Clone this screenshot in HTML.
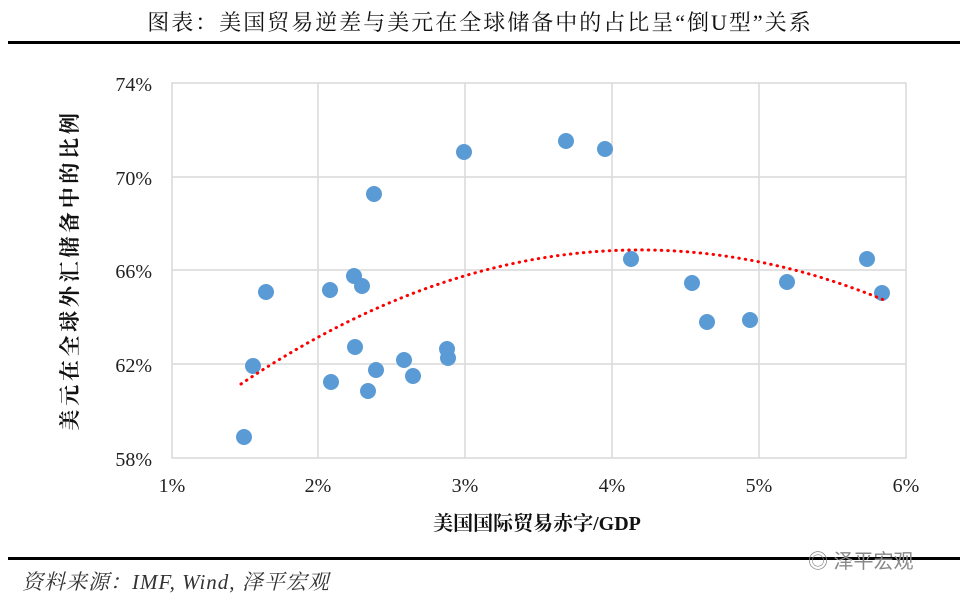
<!DOCTYPE html>
<html><head><meta charset="utf-8"><style>
body{margin:0;background:#fff;width:960px;height:600px;overflow:hidden;position:relative}
.t{position:absolute;white-space:nowrap}
</style></head><body>
<div class="t" style="left:0;width:960px;top:6px;text-align:center;font:22px 'Liberation Serif','Noto Serif CJK SC',serif;letter-spacing:2px;color:#111">图表：美国贸易逆差与美元在全球储备中的占比呈“倒U型”关系</div>
<div style="position:absolute;left:8px;right:0;top:41px;height:3px;background:#000"></div>
<div style="position:absolute;left:8px;right:0;top:557px;height:3px;background:#000"></div>
<svg width="960" height="600" style="position:absolute;left:0;top:0" font-family="Liberation Serif,serif" font-size="20">
<g stroke="#d9d9d9" stroke-width="1.5" fill="none">
<rect x="172" y="83" width="734" height="375"/>
<line x1="318" y1="83" x2="318" y2="458"/><line x1="465" y1="83" x2="465" y2="458"/>
<line x1="612" y1="83" x2="612" y2="458"/><line x1="759" y1="83" x2="759" y2="458"/>
<line x1="172" y1="177" x2="906" y2="177"/><line x1="172" y1="270" x2="906" y2="270"/><line x1="172" y1="364" x2="906" y2="364"/>
</g>
<g fill="#222" text-anchor="end">
<text x="152" y="91">74%</text><text x="152" y="185">70%</text><text x="152" y="278">66%</text><text x="152" y="372">62%</text><text x="152" y="466">58%</text>
</g>
<g fill="#222" text-anchor="middle">
<text x="172" y="492">1%</text><text x="318" y="492">2%</text><text x="465" y="492">3%</text><text x="612" y="492">4%</text><text x="759" y="492">5%</text><text x="906" y="492">6%</text>
</g>
<g fill="#5b9bd5">
<circle cx="244" cy="437" r="8"/><circle cx="253" cy="366" r="8"/><circle cx="266" cy="292" r="8"/><circle cx="330" cy="290" r="8"/><circle cx="331" cy="382" r="8"/><circle cx="354" cy="276" r="8"/><circle cx="355" cy="347" r="8"/><circle cx="362" cy="286" r="8"/><circle cx="368" cy="391" r="8"/><circle cx="374" cy="194" r="8"/><circle cx="376" cy="370" r="8"/><circle cx="404" cy="360" r="8"/><circle cx="413" cy="376" r="8"/><circle cx="447" cy="349" r="8"/><circle cx="448" cy="358" r="8"/><circle cx="464" cy="152" r="8"/><circle cx="566" cy="141" r="8"/><circle cx="605" cy="149" r="8"/><circle cx="631" cy="259" r="8"/><circle cx="692" cy="283" r="8"/><circle cx="707" cy="322" r="8"/><circle cx="750" cy="320" r="8"/><circle cx="787" cy="282" r="8"/><circle cx="867" cy="259" r="8"/><circle cx="882" cy="293" r="8"/>
</g>
<path d="M241 384 Q562.5 168 884 300" fill="none" stroke="#ff0000" stroke-width="3" stroke-dasharray="0.5 6" stroke-linecap="round"/>
</svg>
<div class="t" style="left:-130px;width:400px;top:256px;text-align:center;transform:rotate(-90deg);font:bold 21px 'Liberation Serif','Noto Serif CJK SC',serif;letter-spacing:3.7px;color:#111;line-height:28px">美元在全球外汇储备中的比例</div>
<div class="t" style="left:0;width:1074px;top:507px;text-align:center;font:bold 20px 'Liberation Serif','Noto Serif CJK SC',serif;color:#111">美国国际贸易赤字/GDP</div>
<div class="t" style="left:22px;top:566px;font:italic 21px 'Liberation Serif','Noto Serif CJK SC',serif;color:#333;letter-spacing:1px">资料来源：IMF, Wind, 泽平宏观</div>
<div class="t" style="left:808px;top:545px;font:20px 'Liberation Sans','Noto Sans CJK SC',sans-serif;color:#888">◎ 泽平宏观</div>
</body></html>
